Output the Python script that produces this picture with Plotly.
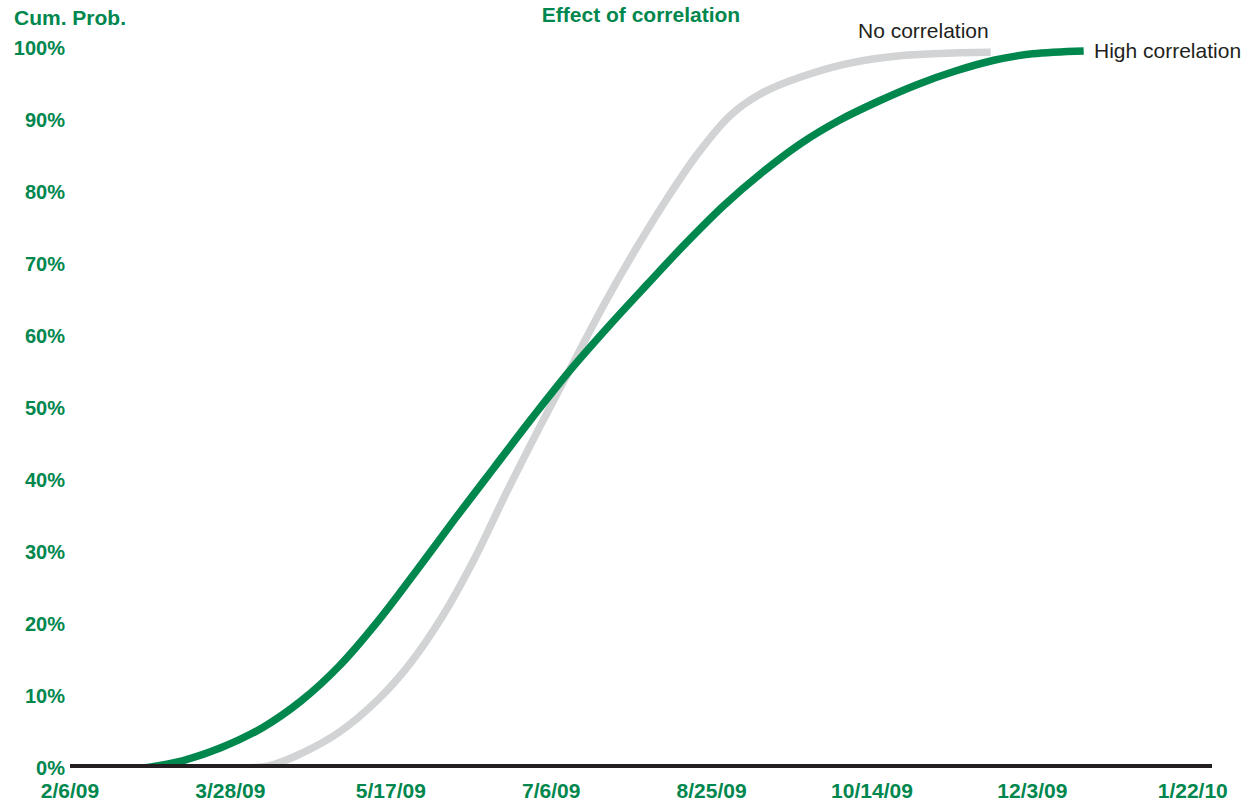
import plotly.graph_objects as go

# --- data ---
high_dates = ["2009-03-01", "2009-03-13", "2009-03-25", "2009-04-07", "2009-04-19",
              "2009-05-01", "2009-05-13", "2009-05-25", "2009-06-06", "2009-06-18",
              "2009-06-30", "2009-07-12", "2009-07-24", "2009-08-05", "2009-08-17",
              "2009-08-29", "2009-09-10", "2009-09-22", "2009-10-04", "2009-10-16",
              "2009-10-28", "2009-11-09", "2009-11-21", "2009-12-03", "2009-12-19"]
high_prob = [0, 1.0, 2.8, 5.6, 9.3,
             14.2, 20.4, 27.4, 34.6, 41.6,
             48.6, 55.3, 61.4, 67.2, 72.9,
             78.2, 82.8, 86.8, 90.0, 92.6,
             94.9, 96.8, 98.3, 99.2, 99.6]

no_dates = ["2009-03-01", "2009-03-28", "2009-04-09", "2009-04-19", "2009-05-01",
            "2009-05-13", "2009-05-23", "2009-06-02", "2009-06-12", "2009-06-22",
            "2009-07-02", "2009-07-12", "2009-07-22", "2009-08-01", "2009-08-11",
            "2009-08-21", "2009-08-31", "2009-09-10", "2009-09-22", "2009-10-06",
            "2009-10-22", "2009-11-20"]
no_prob = [0, 0, 0.3, 2.0, 5.0,
           9.5, 14.5, 21, 29, 38.2,
           47, 55.5, 64, 71.8, 79,
           85.5, 90.7, 93.8, 96, 97.8,
           98.9, 99.4]

tick_dates = ["2009-02-06", "2009-03-28", "2009-05-17", "2009-07-06",
              "2009-08-25", "2009-10-14", "2009-12-03", "2010-01-22"]
tick_labels = ["2/6/09", "3/28/09", "5/17/09", "7/6/09",
               "8/25/09", "10/14/09", "12/3/09", "1/22/10"]
y_ticks = [0, 10, 20, 30, 40, 50, 60, 70, 80, 90, 100]

GREEN = "#00874E"
GREY = "#D1D3D4"
DARK = "#231F20"
FONT = "Liberation Sans, Arial, sans-serif"

fig = go.Figure()
fig.add_trace(go.Scatter(x=no_dates, y=no_prob, mode="lines",
                         line=dict(color=GREY, width=7.5, shape="spline", smoothing=1.0),
                         hoverinfo="skip", showlegend=False))
fig.add_trace(go.Scatter(x=high_dates, y=high_prob, mode="lines",
                         line=dict(color=GREEN, width=7.5, shape="spline", smoothing=1.0),
                         hoverinfo="skip", showlegend=False))

# thick baseline drawn over the curves
fig.add_shape(type="line", xref="paper", x0=0, x1=1, yref="y", y0=0, y1=0,
              line=dict(color=DARK, width=8), layer="above")

fig.update_layout(
    width=1256, height=803,
    margin=dict(l=70, r=44, t=12, b=35, autoexpand=False),
    paper_bgcolor="white", plot_bgcolor="white",
    font=dict(family=FONT, color=DARK, size=21),
    xaxis=dict(type="date", range=["2009-02-06", "2010-01-28"],
               tickvals=tick_dates, ticktext=tick_labels, automargin=False,
               showgrid=False, zeroline=False, showline=False, ticks="",
               ticklabelstandoff=8,
               tickfont=dict(color=GREEN, size=21, weight="bold")),
    yaxis=dict(range=[0, 105], tickvals=y_ticks, automargin=False,
               ticktext=[f"{v}%" for v in y_ticks],
               showgrid=False, zeroline=False, showline=False, ticks="",
               ticklabelstandoff=4,
               tickfont=dict(color=GREEN, size=20, weight="bold")),
    title=dict(text="Effect of correlation", xref="paper", x=0.5, xanchor="center",
               yref="container", y=1 - 15 / 803, yanchor="middle",
               font=dict(color=GREEN, size=21, weight="bold")),
)

fig.add_annotation(text="Cum. Prob.", xref="paper", yref="paper",
                   x=-58 / 1142, y=(768 - 17) / 756, xanchor="left", yanchor="middle",
                   showarrow=False, font=dict(color=GREEN, size=21, weight="bold"))
fig.add_annotation(text="High correlation", x=high_dates[-1], y=high_prob[-1],
                   xanchor="left", yanchor="middle", xshift=8, showarrow=False,
                   font=dict(color=DARK, size=21))
fig.add_annotation(text="No correlation", x=no_dates[-1], y=no_prob[-1],
                   xanchor="right", yanchor="middle", yshift=22, showarrow=False,
                   font=dict(color=DARK, size=21))

fig.write_html("out.html", config={"displayModeBar": False},
               post_script="document.body.style.margin='0';")
